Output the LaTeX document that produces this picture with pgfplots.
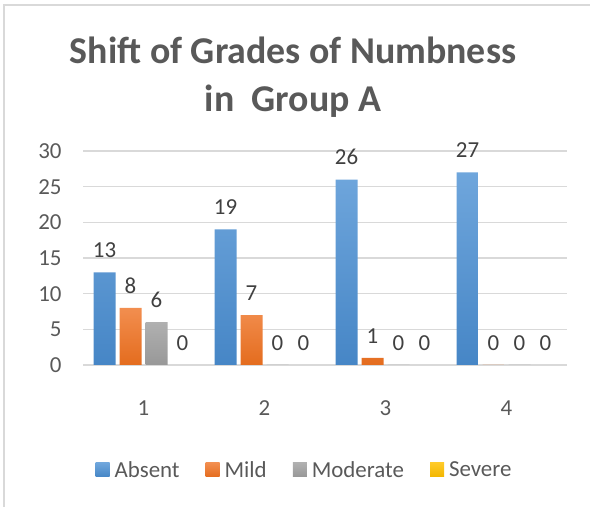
\documentclass[border=0pt]{standalone}
\usepackage{fontspec}
\setmainfont{Carlito}
\usepackage{pgfplots}
\pgfplotsset{compat=1.18}
\definecolor{txt}{HTML}{595959}
\definecolor{lbl}{HTML}{404040}
\definecolor{grid}{HTML}{D9D9D9}
\definecolor{blueT}{HTML}{6FA6DC}
\definecolor{blueB}{HTML}{4686C6}
\definecolor{orT}{HTML}{F28E4F}
\definecolor{orB}{HTML}{E46C1E}
\definecolor{grT}{HTML}{B0B0B0}
\definecolor{grB}{HTML}{989898}
\definecolor{yeT}{HTML}{FFCA28}
\definecolor{yeB}{HTML}{F2B600}
\begin{document}
\begin{tikzpicture}
\useasboundingbox (0,0) rectangle (590bp,507bp);
\draw[grid, line width=1.5bp] (4bp,0) -- (4bp,502bp) -- (590bp,502bp);
\node[text=txt, font=\fontsize{38}{48}\selectfont\bfseries, align=center] at (293bp,430bp) {Shift of Grades of Numbness\\in\ \ Group A};
\begin{axis}[
  at={(83bp,142bp)}, anchor=south west,
  scale only axis, width=484bp, height=214bp,
  ybar=4bp, bar width=22bp,
  xmin=0.5, xmax=4.5, ymin=0, ymax=30,
  xtick={1,2,3,4}, ytick={0,5,...,30},
  axis line style={draw=none},
  axis x line*=bottom,
  x axis line style={draw=grid, line width=1.5bp},
  major tick length=0pt,
  ymajorgrids, grid style={draw=grid, line width=1.3bp},
  tick label style={text=txt, font=\fontsize{23}{27}\selectfont},
  /pgf/number format/assume math mode=true,
  xticklabel style={yshift=-32bp},
  yticklabel style={xshift=-18bp},
  nodes near coords,
  every node near coord/.append style={text=lbl, font=\fontsize{23}{27}\selectfont, yshift=11bp},
  legend columns=4,
  legend style={at={(axis description cs:0.4577,-0.49)}, anchor=center, draw=none, fill=none,
    font=\fontsize{23}{27}\selectfont, text=txt,
    /tikz/every odd column/.append style={column sep=3bp},
    /tikz/every even column/.append style={column sep=24bp}},
  legend image code/.code={\path[#1,draw=none] (0bp,-7bp) rectangle (14bp,7bp);},
]
\addplot[draw=none, top color=blueT, bottom color=blueB] coordinates {(1,13) (2,19) (3,26) (4,27)};
\addplot[draw=none, top color=orT, bottom color=orB] coordinates {(1,8) (2,7) (3,1) (4,0)};
\addplot[draw=none, top color=grT, bottom color=grB] coordinates {(1,6) (2,0) (3,0) (4,0)};
\addplot[draw=none, top color=yeT, bottom color=yeB] coordinates {(1,0) (2,0) (3,0) (4,0)};
\legend{Absent, Mild, Moderate, Severe}
\end{axis}
\end{tikzpicture}
\end{document}
